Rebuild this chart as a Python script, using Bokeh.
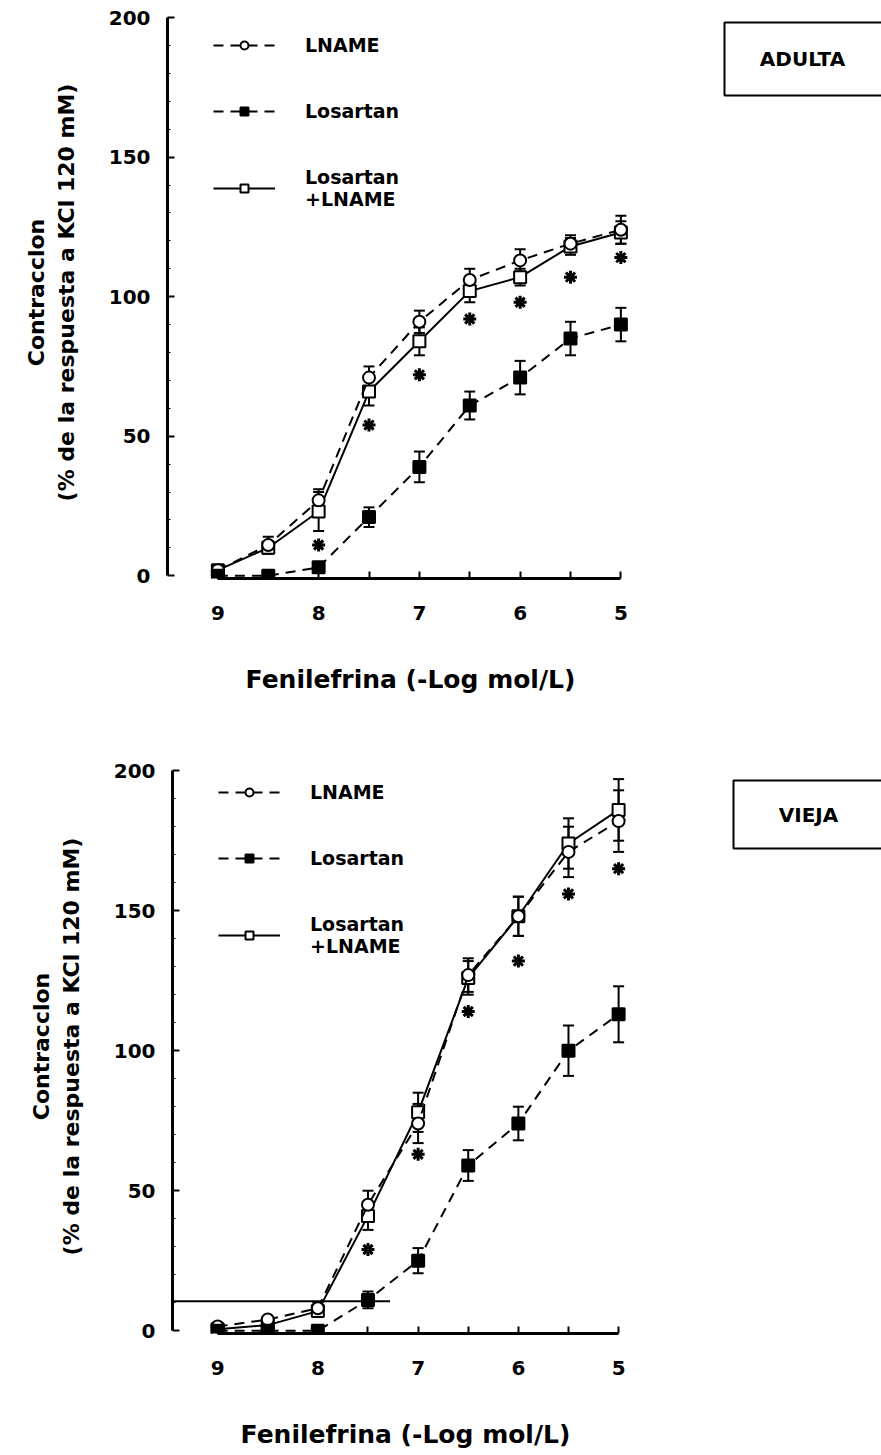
from bokeh.plotting import figure
from bokeh.models import (Range1d, FixedTicker, Whisker, TeeHead, ColumnDataSource,
                          Legend, LegendItem, BoxAnnotation, Label)
from bokeh.layouts import column, row
from bokeh.embed import file_html
from bokeh.resources import INLINE

# ---------------- data ----------------
conc = [9, 8.5, 8, 7.5, 7, 6.5, 6, 5.5, 5]          # -log mol/L
x_ticks = [9, 8, 7, 6, 5]
x_minor = [8.5, 7.5, 6.5, 5.5]
y_ticks = [0, 50, 100, 150, 200]

# ADULTA
lname_a = [2, 11, 27, 71, 91, 106, 113, 119, 124]
lname_a_err = [1, 3, 4, 4, 4, 4, 4, 3, 5]
los_a = [0, 0, 3, 21, 39, 61, 71, 85, 90]
los_a_err = [0.5, 0.5, 1, 3.5, 5.5, 5, 6, 6, 6]
loslname_a = [2, 10, 23, 66, 84, 102, 107, 118, 123]
loslname_a_err = [1, 2, 7, 5, 5, 4, 3, 3, 4]
sig_x_a = [8, 7.5, 7, 6.5, 6, 5.5, 5]
sig_y_a = [11, 54, 72, 92, 98, 107, 114]

# VIEJA
lname_v = [1.5, 4, 8, 45, 74, 127, 148, 171, 182]
lname_v_err = [1, 1, 2, 5, 7, 6, 7, 9, 11]
los_v = [0, 0, 0, 11, 25, 59, 74, 100, 113]
los_v_err = [0.5, 0.5, 0.5, 3, 4.5, 5.5, 6, 9, 10]
loslname_v = [0.5, 2, 7, 41, 78, 126, 148, 174, 186]
loslname_v_err = [1, 1, 2, 5, 7, 6, 7, 9, 11]
sig_x_v = [7.5, 7, 6.5, 6, 5.5, 5]
sig_y_v = [29, 63, 114, 132, 156, 165]

ref_line_x = [9.7, 7.28]
ref_line_y = [10.5, 10.5]

x_title = "Fenilefrina (-Log mol/L)"
y_title = "Contracclon\n(% de la respuesta a KCl 120 mM)"

FONT = "DejaVu Sans"
DASH = "10 7"


def panel(lname, lname_err, los, los_err, loslname, loslname_err, sig_x, sig_y,
          width, height, border_top, border_bottom, border_left, x_start, px_per_x,
          legend_loc, extra_line=None):
    x_end = x_start - (width - border_left) / px_per_x
    p = figure(width=width, height=height, output_backend="svg", toolbar_location=None,
               x_range=Range1d(x_start, x_end), y_range=Range1d(-1, 204),
               min_border_top=border_top, min_border_bottom=border_bottom,
               min_border_left=border_left, min_border_right=0)
    p.outline_line_color = None
    p.xgrid.visible = False
    p.ygrid.visible = False
    p.background_fill_color = "white"

    xa = p.xaxis[0]
    xa.ticker = FixedTicker(ticks=x_ticks, minor_ticks=x_minor)
    xa.bounds = (5, 9)
    xa.axis_line_width = 3
    xa.axis_line_color = "black"
    xa.major_tick_in = 7
    xa.major_tick_out = 0
    xa.minor_tick_in = 7
    xa.minor_tick_out = 0
    xa.major_tick_line_width = 2
    xa.minor_tick_line_width = 2
    xa.major_label_text_font = FONT
    xa.major_label_text_font_style = "bold"
    xa.major_label_text_font_size = "20px"
    xa.major_label_text_color = "black"
    xa.major_label_standoff = 27
    xa.axis_label = x_title
    xa.axis_label_text_font = FONT
    xa.axis_label_text_font_style = "bold"
    xa.axis_label_text_font_size = "25px"
    xa.axis_label_text_color = "black"
    xa.axis_label_standoff = 42

    ya = p.yaxis[0]
    ya.ticker = FixedTicker(ticks=y_ticks, minor_ticks=list(range(10, 200, 10)))
    ya.bounds = (0, 200)
    ya.axis_line_width = 3
    ya.axis_line_color = "black"
    ya.major_tick_in = 7
    ya.major_tick_out = 0
    ya.minor_tick_in = 3
    ya.minor_tick_out = 0
    ya.major_tick_line_width = 2
    ya.major_label_text_font = FONT
    ya.major_label_text_font_style = "bold"
    ya.major_label_text_font_size = "20px"
    ya.major_label_text_color = "black"
    ya.major_label_standoff = 17
    ya.axis_label = y_title
    ya.axis_label_text_font = FONT
    ya.axis_label_text_font_style = "bold"
    ya.axis_label_text_font_size = "22px"
    ya.axis_label_text_color = "black"
    ya.axis_label_standoff = 27

    if extra_line is not None:
        p.line(extra_line[0], extra_line[1], line_color="black", line_width=2)

    def series(y, err, dash, marker, fill):
        src = ColumnDataSource(dict(x=conc, y=y,
                                    upper=[a + b for a, b in zip(y, err)],
                                    lower=[a - b for a, b in zip(y, err)]))
        w = Whisker(source=src, base="x", upper="upper", lower="lower",
                    line_color="black", line_width=2,
                    upper_head=TeeHead(size=11, line_width=2, line_color="black"),
                    lower_head=TeeHead(size=11, line_width=2, line_color="black"))
        w.level = "underlay"
        p.add_layout(w)
        lr = p.line("x", "y", source=src, line_color="black", line_width=2, line_dash=dash)
        sr = p.scatter("x", "y", source=src, marker=marker, size=12, line_color="black",
                       line_width=2, fill_color=fill)
        return [lr, sr]

    r_ll = series(loslname, loslname_err, "solid", "square", "white")
    r_l = series(lname, lname_err, DASH, "circle", "white")
    r_lo = series(los, los_err, DASH, "square", "black")

    p.scatter(sig_x, sig_y, marker="asterisk", size=13, line_width=3, line_color="black")

    legend = Legend(items=[LegendItem(label="LNAME", renderers=r_l),
                           LegendItem(label="Losartan", renderers=r_lo),
                           LegendItem(label="Losartan\n+LNAME", renderers=r_ll)],
                    location=legend_loc, orientation="vertical",
                    border_line_alpha=0, background_fill_alpha=0,
                    label_text_font=FONT, label_text_font_style="bold",
                    label_text_font_size="19px", label_text_color="black",
                    label_text_line_height=1.5,
                    glyph_width=62, glyph_height=20,
                    label_height=20, label_standoff=30, spacing=44, padding=0, margin=0)
    p.add_layout(legend)
    return p


def tag_box(tag, width, height, frame_top, frame_bottom, left, top, bottom, text_x, text_y):
    # small side panel holding the group label box; its frame is aligned with the
    # neighbouring plot's frame, so the y range is expressed in pixel rows of that frame
    b = figure(width=width, height=height, output_backend="svg", toolbar_location=None,
               x_range=Range1d(0, width), y_range=Range1d(frame_bottom, frame_top),
               x_axis_type=None, y_axis_type=None,
               min_border_top=0, min_border_bottom=0, min_border_left=0, min_border_right=0)
    b.outline_line_color = None
    b.xgrid.visible = False
    b.ygrid.visible = False
    b.add_layout(BoxAnnotation(left=left, right=width + 10, top=top, bottom=bottom,
                               fill_alpha=0, line_color="black", line_alpha=1,
                               line_width=2))
    b.add_layout(Label(x=text_x, y=text_y, text=tag, text_align="center",
                       text_baseline="middle", text_font=FONT, text_font_style="bold",
                       text_font_size="20px", text_color="black"))
    return b


TOP_W, BOT_W = 653, 638

top = panel(lname_a, lname_a_err, los_a, los_a_err, loslname_a, loslname_a_err,
            sig_x_a, sig_y_a, width=TOP_W, height=748, border_top=6, border_bottom=170,
            border_left=167, x_start=9.5, px_per_x=100.75, legend_loc=(46, 368))
top_tag = tag_box("ADULTA", 881 - TOP_W, 748, 6, 578, 724 - TOP_W, 22, 95,
                  802 - TOP_W, 58)

bottom = panel(lname_v, lname_v_err, los_v, los_v_err, loslname_v, loslname_v_err,
               sig_x_v, sig_y_v, width=BOT_W, height=707, border_top=11, border_bottom=122,
               border_left=172, x_start=9.45, px_per_x=100.25, legend_loc=(46, 376),
               extra_line=(ref_line_x, ref_line_y))
bot_tag = tag_box("VIEJA", 881 - BOT_W, 707, 11, 585, 733 - BOT_W, 32, 100,
                  808 - BOT_W, 66)

layout = column(row(top, top_tag, spacing=0), row(bottom, bot_tag, spacing=0), spacing=0)
open("out.html", "w").write(file_html(layout, INLINE))
